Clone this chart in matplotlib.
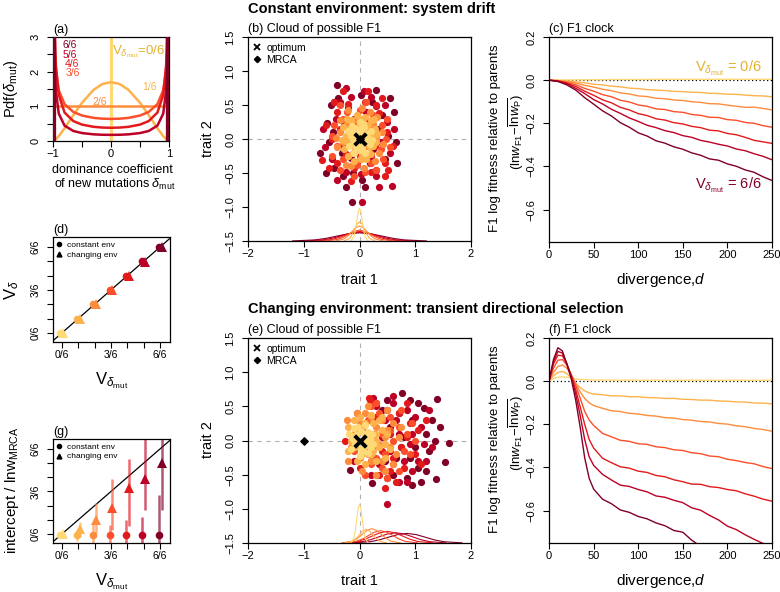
import matplotlib
matplotlib.use('Agg')
import matplotlib.pyplot as plt
import numpy as np
from matplotlib.lines import Line2D

plt.rcParams['font.family'] = ['Liberation Sans', 'DejaVu Sans']
plt.rcParams['mathtext.fontset'] = 'custom'
plt.rcParams['mathtext.rm'] = 'Liberation Sans'
plt.rcParams['mathtext.it'] = 'Liberation Sans:italic'
plt.rcParams['mathtext.bf'] = 'Liberation Sans:bold'
plt.rcParams['axes.linewidth'] = 0.9

# ---------------- data ----------------
cols = ['#FED976', '#FEB24C', '#FD8D3C', '#FC4E2A', '#E31A1C', '#BD0026', '#800026']
gold = '#E3B22E'

# (a) distributions of dominance coefficient
a_x = [-0.995, -0.98, -0.97, -0.95, -0.9, -0.8, -0.65, -0.5, -0.3, -0.15, 0,
       0.15, 0.3, 0.5, 0.65, 0.8, 0.9, 0.95, 0.97, 0.98, 0.995]
pdf0_at = [0.0]
pdf1 = [0.002, 0.013, 0.024, 0.052, 0.141, 0.367, 0.746, 1.104, 1.476, 1.643, 1.7,
        1.643, 1.476, 1.104, 0.746, 0.367, 0.141, 0.052, 0.024, 0.013, 0.002]
pdf2_x = [-1.0, 1.0]
pdf2_y = [1.0, 1.0]
pdf3 = [6.37, 3.20, 2.619, 2.039, 1.460, 1.061, 0.838, 0.735, 0.667, 0.644, 0.637,
        0.644, 0.667, 0.735, 0.838, 1.061, 1.460, 2.039, 2.619, 3.20, 6.37]
pdf4 = [12.1, 4.29, 3.178, 2.18, 1.324, 0.820, 0.575, 0.473, 0.409, 0.388, 0.381,
        0.388, 0.409, 0.473, 0.575, 0.820, 1.324, 2.18, 3.178, 4.29, 12.1]
pdf5 = [11.2, 3.23, 2.252, 1.435, 0.787, 0.443, 0.289, 0.229, 0.192, 0.180, 0.177,
        0.180, 0.192, 0.229, 0.289, 0.443, 0.787, 1.435, 2.252, 3.23, 11.2]
pdf6_at = [-1.0, 1.0]

# (d) and (g)
v_mut = [0/6, 1/6, 2/6, 3/6, 4/6, 5/6, 6/6]
vd_const = [0.0, 0.167, 0.333, 0.500, 0.667, 0.833, 1.000]
vd_chang = [0.0, 0.165, 0.331, 0.497, 0.663, 0.829, 0.995]
g_const = [-0.010, -0.015, -0.015, -0.012, -0.015, -0.015, -0.015]
g_const_lo = [-0.010, -0.086, -0.20, -0.20, -0.25, -0.30, -0.40]
g_const_hi = [-0.010, 0.050, 0.120, 0.108, 0.166, 0.205, 0.457]
g_chang = [0.0, 0.058, 0.167, 0.300, 0.535, 0.643, 0.833]
g_chang_lo = [0.0, -0.030, 0.010, 0.050, 0.090, 0.280, 0.283]
g_chang_hi = [0.0, 0.147, 0.360, 0.640, 0.880, 1.300, 1.300]

# (b) cloud of F1, constant environment (per V class)
cloud_b = [
    [(-0.10, 0.10), (-0.12, -0.03), (-0.06, -0.12), (0.05, -0.12), (0.12, -0.04), (0.11, 0.08),
     (0.03, 0.14), (-0.03, 0.03), (0.04, -0.02), (-0.15, 0.04), (0.15, 0.02), (0.00, -0.16),
     (-0.08, 0.16), (0.08, 0.17), (0.00, 0.06), (-0.04, -0.06), (0.18, -0.08), (-0.18, -0.10),
     (0.06, 0.22), (-0.14, 0.19), (0.20, 0.12), (-0.20, 0.12), (0.10, -0.20), (-0.10, -0.20),
     (0.00, 0.25), (0.22, -0.02)],
    [(-0.18, 0.15), (-0.22, -0.05), (-0.12, -0.20), (0.05, -0.22), (0.18, -0.12), (0.22, 0.05),
     (0.15, 0.20), (0.00, 0.22), (-0.08, 0.05), (0.08, -0.05), (-0.05, -0.10), (0.10, 0.10),
     (-0.25, 0.05), (0.25, -0.10), (0.00, 0.30), (0.02, -0.30), (-0.15, 0.28), (0.20, 0.28),
     (-0.20, -0.25), (0.28, 0.15), (-0.30, 0.18), (-0.28, -0.15), (-0.10, -0.32), (0.12, -0.30),
     (0.30, -0.05), (0.32, 0.08), (0.10, 0.32), (-0.05, 0.36), (-0.32, -0.02), (0.18, -0.22),
     (-0.22, 0.30), (0.26, 0.30), (-0.12, 0.12), (0.12, 0.00), (0.00, -0.12)],
    [(-0.25, 0.20), (-0.30, -0.05), (-0.20, -0.25), (0.00, -0.30), (0.20, -0.22), (0.30, 0.00),
     (0.25, 0.22), (0.05, 0.30), (-0.10, 0.28), (0.10, -0.10), (-0.10, -0.10), (0.15, 0.12),
     (-0.35, 0.10), (0.35, -0.20), (0.05, 0.45), (-0.15, -0.40), (0.32, 0.32), (-0.40, -0.12),
     (-0.35, 0.28), (-0.25, -0.38), (0.08, -0.42), (0.28, -0.32), (0.40, 0.10), (0.18, 0.40),
     (-0.20, 0.42), (0.42, -0.08), (-0.42, 0.02), (0.10, 0.22), (-0.22, 0.00)],
    [(-0.30, 0.30), (-0.40, -0.10), (-0.30, -0.30), (-0.05, -0.38), (0.20, -0.35), (0.38, -0.15),
     (0.40, 0.20), (0.25, 0.35), (0.00, 0.42), (-0.22, 0.40), (-0.45, 0.20), (0.15, -0.10),
     (-0.15, 0.05), (0.05, 0.15), (0.30, -0.45), (-0.50, -0.25), (0.48, 0.00), (-0.10, -0.55),
     (-0.50, 0.05), (-0.35, -0.45), (0.10, -0.48), (0.42, -0.30), (0.50, 0.30), (0.12, 0.55),
     (-0.35, 0.50), (0.30, 0.05), (-0.10, 0.20), (0.55, -0.12)],
    [(-0.40, 0.40), (-0.50, 0.00), (-0.40, -0.35), (-0.10, -0.42), (0.20, -0.48), (0.45, -0.35),
     (0.52, -0.46), (0.50, 0.10), (0.35, 0.38), (0.10, 0.55), (-0.20, 0.52), (-0.35, 0.15),
     (0.28, -0.10), (-0.25, -0.22), (0.05, 0.25), (-0.68, -0.31), (0.15, 0.70), (-0.30, 0.70),
     (0.40, 0.60), (-0.55, -0.42), (0.00, -0.25), (0.20, 0.20), (-0.60, 0.20), (0.60, -0.10),
     (-0.15, -0.62), (0.30, 0.50), (-0.45, 0.55), (0.45, -0.55)],
    [(-0.35, 0.55), (-0.62, -0.12), (-0.50, -0.30), (-0.25, -0.48), (0.02, -0.52), (0.30, -0.55),
     (0.55, -0.20), (0.50, 0.25), (0.30, 0.48), (0.08, 0.70), (-0.15, 0.62), (-0.42, 0.30),
     (-0.20, 0.10), (0.20, -0.25), (0.38, -0.05), (-0.30, -0.10), (0.12, 0.40), (-0.05, -0.35),
     (0.58, -0.69), (0.04, -0.92), (-0.45, 0.55), (0.25, 0.15), (-0.10, -0.05), (0.45, 0.50),
     (-0.65, 0.15), (0.62, 0.15), (-0.25, 0.75), (0.35, -0.70), (-0.40, -0.60), (0.20, 0.62)],
    [(-0.41, 0.79), (-0.38, 0.61), (-0.51, 0.50), (-0.59, 0.24), (-0.55, -0.05), (-0.45, -0.42),
     (-0.30, -0.55), (-0.12, -0.50), (0.05, -0.60), (0.10, -0.70), (0.30, -0.45), (0.45, -0.30),
     (0.52, 0.05), (0.40, 0.35), (0.22, 0.55), (0.02, 0.65), (-0.20, 0.45), (-0.28, 0.20),
     (-0.32, -0.20), (0.25, -0.15), (0.15, 0.25), (-0.10, 0.30), (0.35, 0.15), (-0.15, -0.28),
     (0.67, -0.36), (0.61, 0.40), (-0.14, -0.92), (-0.48, 0.10), (0.18, -0.35), (-0.05, -0.15),
     (-0.70, -0.20), (0.65, -0.05), (-0.25, -0.70), (0.30, 0.72), (-0.60, -0.50), (0.55, 0.60)],
]

# (e) cloud of F1, changing environment
cloud_e = [
    [(0.10, 0.08), (0.12, -0.06), (0.02, -0.12), (-0.08, -0.05), (-0.06, 0.08), (0.03, 0.14),
     (0.18, 0.02), (0.00, 0.00), (0.08, 0.00), (-0.12, 0.02), (0.15, 0.12), (0.06, -0.16),
     (-0.03, 0.20), (0.20, -0.10), (0.22, 0.10), (-0.15, -0.12), (0.10, 0.22), (-0.10, 0.18),
     (0.25, -0.05), (0.00, -0.22), (0.15, -0.18), (-0.18, 0.10)],
    [(0.30, 0.10), (0.35, -0.10), (0.20, -0.20), (0.05, -0.20), (-0.08, -0.10), (0.25, 0.25),
     (0.10, 0.25), (-0.05, 0.15), (0.15, 0.05), (0.20, -0.05), (0.05, 0.00), (0.40, 0.15),
     (0.10, -0.35), (0.30, -0.30), (-0.10, 0.30), (0.00, 0.35), (0.45, -0.05), (-0.15, 0.00),
     (0.50, 0.10), (0.45, -0.25), (0.35, 0.30), (0.20, 0.38), (-0.05, -0.30), (-0.20, -0.15),
     (-0.20, 0.20), (0.55, -0.12), (0.30, 0.00), (0.10, 0.10), (0.25, -0.15), (0.40, 0.35)],
    [(0.50, 0.15), (0.55, -0.10), (0.40, -0.30), (0.20, -0.30), (0.00, -0.25), (0.40, 0.30),
     (0.20, 0.35), (0.00, 0.25), (0.25, 0.05), (0.35, -0.05), (0.10, -0.10), (-0.10, 0.10),
     (-0.15, -0.10), (0.60, 0.25), (0.15, 0.50), (0.45, -0.45), (-0.05, 0.40), (0.30, 0.20),
     (0.05, -0.45), (0.65, -0.20), (0.70, 0.05), (0.60, -0.35), (0.50, 0.45), (0.30, -0.50),
     (-0.20, -0.30), (-0.22, 0.30), (0.75, 0.20), (0.45, 0.05), (0.15, -0.20), (0.10, 0.40)],
    [(0.70, 0.20), (0.80, -0.15), (0.60, -0.35), (0.40, -0.40), (0.20, -0.35), (0.55, 0.35),
     (0.35, 0.40), (0.15, 0.30), (0.40, 0.10), (0.60, 0.00), (0.25, -0.10), (0.45, -0.20),
     (0.05, 0.15), (-0.10, -0.15), (0.85, 0.10), (0.10, -0.50), (0.30, 0.55), (0.70, -0.45),
     (0.90, -0.20), (0.95, 0.25), (0.75, 0.45), (0.50, -0.55), (0.20, 0.50), (-0.05, 0.40),
     (0.55, 0.15), (0.30, -0.25), (1.00, 0.00)],
    [(0.90, 0.25), (1.00, -0.20), (0.80, -0.40), (0.55, -0.45), (0.35, -0.50), (0.70, 0.40),
     (0.50, 0.45), (0.30, 0.35), (0.55, 0.10), (0.75, -0.10), (0.40, -0.15), (0.60, -0.25),
     (0.85, 0.05), (0.20, -0.30), (0.19, 0.59), (0.17, 0.62), (-0.26, -0.01), (0.25, 0.10),
     (1.05, 0.15), (0.45, -0.70), (1.20, 0.30), (1.10, -0.35), (0.65, -0.60), (0.30, 0.55),
     (0.85, 0.55), (0.00, -0.40)],
    [(1.10, 0.20), (1.20, -0.30), (0.95, -0.45), (0.70, -0.60), (0.50, -0.55), (0.85, 0.45),
     (0.60, 0.55), (0.45, 0.30), (0.70, 0.10), (0.90, -0.05), (0.55, -0.15), (0.80, -0.30),
     (1.00, 0.35), (0.35, -0.35), (0.30, 0.50), (1.15, -0.05), (0.40, 0.05), (0.65, 0.30),
     (0.25, 0.62), (-0.10, -0.30), (0.49, -0.93), (0.95, 0.10), (1.30, -0.10), (1.25, 0.45),
     (0.85, -0.60), (0.60, 0.65), (0.20, -0.50), (1.05, -0.30)],
    [(1.39, 0.61), (1.60, -0.03), (1.54, -0.32), (1.38, -0.57), (0.76, 0.69), (1.16, 0.48),
     (1.20, 0.10), (1.25, -0.15), (1.05, -0.40), (0.85, -0.55), (0.60, -0.50), (0.95, 0.30),
     (0.70, 0.40), (0.55, 0.20), (0.80, 0.05), (1.00, -0.10), (0.65, -0.25), (0.90, -0.25),
     (1.30, 0.30), (0.45, -0.30), (0.40, 0.45), (-0.17, -0.43), (0.22, -0.62), (1.10, -0.60),
     (0.75, -0.10), (1.05, 0.55), (1.45, 0.20), (1.20, -0.45), (0.95, -0.65), (0.90, 0.60),
     (0.50, 0.60), (1.35, 0.00)],
]

# marginal densities of trait 1 (drawn on the bottom of the clouds)
dens_b_x = [
    [-0.15, -0.1, -0.075, -0.05, -0.025, 0, 0.025, 0.05, 0.075, 0.1, 0.15],
    [-0.27, -0.18, -0.135, -0.09, -0.045, 0, 0.045, 0.09, 0.135, 0.18, 0.27],
    [-0.42, -0.28, -0.21, -0.14, -0.07, 0, 0.07, 0.14, 0.21, 0.28, 0.42],
    [-0.6, -0.4, -0.3, -0.2, -0.1, 0, 0.1, 0.2, 0.3, 0.4, 0.6],
    [-0.78, -0.52, -0.39, -0.26, -0.13, 0, 0.13, 0.26, 0.39, 0.52, 0.78],
    [-0.96, -0.64, -0.48, -0.32, -0.16, 0, 0.16, 0.32, 0.48, 0.64, 0.96],
    [-1.2, -0.8, -0.6, -0.4, -0.2, 0, 0.2, 0.4, 0.6, 0.8, 1.2],
]
dens_b_y = [
    [-1.495, -1.435, -1.344, -1.209, -1.077, -1.02, -1.077, -1.209, -1.344, -1.435, -1.495],
    [-1.497, -1.462, -1.409, -1.330, -1.253, -1.22, -1.253, -1.330, -1.409, -1.462, -1.497],
    [-1.498, -1.470, -1.428, -1.366, -1.306, -1.28, -1.306, -1.366, -1.428, -1.470, -1.498],
    [-1.498, -1.478, -1.448, -1.403, -1.359, -1.34, -1.359, -1.403, -1.448, -1.478, -1.498],
    [-1.498, -1.481, -1.455, -1.415, -1.377, -1.36, -1.377, -1.415, -1.455, -1.481, -1.498],
    [-1.499, -1.482, -1.458, -1.421, -1.385, -1.37, -1.385, -1.421, -1.458, -1.482, -1.499],
    [-1.499, -1.484, -1.461, -1.427, -1.394, -1.38, -1.394, -1.427, -1.461, -1.484, -1.499],
]
dens_e_x = [
    [-0.15, -0.1, -0.075, -0.05, -0.025, 0, 0.025, 0.05, 0.075, 0.1, 0.15],
    [-0.24, -0.12, -0.06, 0.0, 0.06, 0.12, 0.18, 0.24, 0.30, 0.36, 0.48],
    [-0.29, -0.12, -0.035, 0.05, 0.135, 0.22, 0.305, 0.39, 0.475, 0.56, 0.73],
    [-0.28, -0.06, 0.05, 0.16, 0.27, 0.38, 0.49, 0.60, 0.71, 0.82, 1.04],
    [-0.31, -0.04, 0.095, 0.23, 0.365, 0.5, 0.635, 0.77, 0.905, 1.04, 1.31],
    [-0.25, 0.05, 0.2, 0.35, 0.5, 0.65, 0.8, 0.95, 1.1, 1.25, 1.55],
    [-0.14, 0.19, 0.355, 0.52, 0.685, 0.85, 1.015, 1.18, 1.345, 1.51, 1.84],
]
dens_e_y = [
    [-1.494, -1.423, -1.315, -1.154, -0.997, -0.93, -0.997, -1.154, -1.315, -1.423, -1.494],
    [-1.498, -1.473, -1.435, -1.379, -1.324, -1.30, -1.324, -1.379, -1.435, -1.473, -1.498],
    [-1.498, -1.472, -1.432, -1.373, -1.315, -1.29, -1.315, -1.373, -1.432, -1.472, -1.498],
    [-1.498, -1.476, -1.442, -1.391, -1.341, -1.32, -1.341, -1.391, -1.442, -1.476, -1.498],
    [-1.498, -1.477, -1.445, -1.397, -1.350, -1.33, -1.350, -1.397, -1.445, -1.477, -1.498],
    [-1.498, -1.480, -1.451, -1.409, -1.368, -1.35, -1.368, -1.409, -1.451, -1.480, -1.498],
    [-1.498, -1.481, -1.455, -1.415, -1.377, -1.36, -1.377, -1.415, -1.455, -1.481, -1.498],
]
optimum = (0.0, 0.0)
mrca_b = (0.0, 0.0)
mrca_e = (-1.0, 0.0)

# (c) F1 clock, constant environment
d_c = list(range(0, 251, 10))
clock_c = [
    [0, 0.000, 0.001, 0.001, 0.002, 0.002, 0.002, 0.003, 0.003, 0.003, 0.003, 0.003, 0.004,
     0.004, 0.004, 0.004, 0.004, 0.004, 0.004, 0.004, 0.004, 0.004, 0.004, 0.004, 0.004, 0.004],
    [0, -0.001, -0.004, -0.008, -0.012, -0.019, -0.022, -0.028, -0.031, -0.037, -0.039, -0.044,
     -0.046, -0.048, -0.052, -0.053, -0.056, -0.057, -0.061, -0.062, -0.065, -0.066, -0.069,
     -0.072, -0.073, -0.077],
    [0, -0.002, -0.007, -0.013, -0.024, -0.032, -0.042, -0.049, -0.059, -0.064, -0.073, -0.076,
     -0.084, -0.086, -0.092, -0.094, -0.100, -0.103, -0.109, -0.110, -0.116, -0.121, -0.126,
     -0.125, -0.131, -0.138],
    [0, -0.003, -0.011, -0.021, -0.038, -0.051, -0.067, -0.077, -0.093, -0.101, -0.115, -0.121,
     -0.133, -0.136, -0.146, -0.149, -0.159, -0.163, -0.172, -0.173, -0.183, -0.186, -0.196,
     -0.200, -0.211, -0.218],
    [0, -0.004, -0.014, -0.029, -0.051, -0.070, -0.091, -0.105, -0.126, -0.138, -0.155, -0.164,
     -0.179, -0.185, -0.197, -0.203, -0.214, -0.220, -0.232, -0.235, -0.247, -0.253, -0.265,
     -0.279, -0.286, -0.293],
    [0, -0.005, -0.016, -0.038, -0.062, -0.090, -0.110, -0.135, -0.154, -0.175, -0.191, -0.209,
     -0.220, -0.234, -0.243, -0.257, -0.265, -0.279, -0.287, -0.297, -0.305, -0.319, -0.327,
     -0.341, -0.353, -0.369],
    [0, -0.006, -0.022, -0.046, -0.081, -0.111, -0.142, -0.166, -0.197, -0.218, -0.244, -0.259,
     -0.281, -0.292, -0.309, -0.320, -0.337, -0.348, -0.365, -0.371, -0.388, -0.399, -0.416,
     -0.427, -0.448, -0.465],
]

# (f) F1 clock, changing environment
d_f = [0, 5, 10, 15, 20, 25, 30, 35, 40, 45, 50, 60, 70, 80, 90, 100, 110, 120, 130, 140, 150,
       160, 170, 180, 190, 200, 210, 220, 230, 240, 250]
clock_f = [
    [0, 0.012, 0.018, 0.020, 0.018, 0.014, 0.010, 0.008, 0.007, 0.006, 0.005, 0.005, 0.005,
     0.004, 0.005, 0.004, 0.004, 0.005, 0.004, 0.004, 0.004, 0.005, 0.004, 0.004, 0.004, 0.004,
     0.005, 0.004, 0.004, 0.004, 0.004],
    [0, 0.025, 0.040, 0.045, 0.035, 0.015, -0.010, -0.030, -0.045, -0.054, -0.060, -0.063,
     -0.068, -0.068, -0.072, -0.072, -0.076, -0.077, -0.080, -0.080, -0.084, -0.085, -0.088,
     -0.088, -0.092, -0.093, -0.096, -0.097, -0.101, -0.102, -0.105],
    [0, 0.040, 0.068, 0.075, 0.060, 0.030, -0.010, -0.050, -0.080, -0.100, -0.113, -0.126,
     -0.137, -0.141, -0.149, -0.152, -0.159, -0.162, -0.169, -0.171, -0.178, -0.181, -0.187,
     -0.189, -0.196, -0.199, -0.207, -0.211, -0.219, -0.224, -0.232],
    [0, 0.060, 0.097, 0.100, 0.075, 0.030, -0.020, -0.080, -0.140, -0.180, -0.205, -0.242,
     -0.258, -0.274, -0.279, -0.290, -0.293, -0.304, -0.308, -0.318, -0.321, -0.332, -0.336,
     -0.347, -0.350, -0.362, -0.368, -0.377, -0.383, -0.396, -0.405],
    [0, 0.080, 0.120, 0.118, 0.080, 0.025, -0.040, -0.120, -0.200, -0.270, -0.310, -0.357,
     -0.378, -0.397, -0.403, -0.417, -0.423, -0.437, -0.443, -0.457, -0.466, -0.477, -0.478,
     -0.489, -0.493, -0.502, -0.508, -0.522, -0.533, -0.547, -0.556],
    [0, 0.090, 0.138, 0.130, 0.080, 0.020, -0.060, -0.160, -0.270, -0.350, -0.390, -0.432,
     -0.458, -0.482, -0.488, -0.502, -0.513, -0.532, -0.538, -0.552, -0.563, -0.587, -0.598,
     -0.622, -0.643, -0.672, -0.688, -0.712, -0.733, -0.752, -0.765],
    [0, 0.100, 0.155, 0.140, 0.080, 0.010, -0.090, -0.215, -0.355, -0.450, -0.500, -0.547,
     -0.568, -0.597, -0.608, -0.627, -0.638, -0.657, -0.670, -0.692, -0.700, -0.737, -0.765,
     -0.790, -0.810, -0.830, -0.850, -0.870, -0.890, -0.910, -0.930],
]

frac_ticks = [0, 1/6, 2/6, 3/6, 4/6, 5/6, 6/6]
frac_labels = ['0/6', '', '', '3/6', '', '', '6/6']

# ---------------- figure ----------------
W, H = 780, 592
fig = plt.figure(figsize=(W / 100, H / 100), dpi=100)


def add_ax(l, t, r, b):
    return fig.add_axes([l / W, 1 - b / H, (r - l) / W, (b - t) / H])


def ftext(px, py, s, **kw):
    kw.setdefault('ha', 'center')
    kw.setdefault('va', 'center')
    fig.text(px / W, 1 - py / H, s, **kw)


def style(ax, fs=8, ypad=5):
    ax.tick_params(direction='out', length=4, width=0.8, labelsize=fs, pad=2)
    ax.tick_params(axis='y', labelrotation=90, pad=ypad)
    plt.setp(ax.get_yticklabels(), va='center')


def plabel(ax, s):
    ax.text(0, 1.01, s, transform=ax.transAxes, ha='left', va='bottom', fontsize=9)


axA = add_ax(53, 37, 169, 141)
axD = add_ax(53, 237, 170, 342)
axG = add_ax(53, 439, 170, 543)
axB = add_ax(248, 37, 471, 241)
axE = add_ax(248, 338, 471, 543)
axC = add_ax(549, 37, 772, 242)
axF = add_ax(549, 338, 772, 543)

# ---- (a)
axA.vlines(pdf0_at, 0, 3, color=cols[0], lw=2.2, zorder=2)
axA.plot(a_x, pdf1, color=cols[1], lw=1.8)
axA.plot(pdf2_x, pdf2_y, color=cols[2], lw=1.8)
axA.plot(a_x, pdf3, color=cols[3], lw=1.8)
axA.plot(a_x, pdf4, color=cols[4], lw=1.8)
axA.plot(a_x, pdf5, color=cols[5], lw=1.8)
axA.vlines(pdf6_at, 0, 3, color=cols[6], lw=4.5, zorder=3)
axA.set_xlim(-1, 1)
axA.set_ylim(0, 3)
axA.set_xticks([-1, -0.5, 0, 0.5, 1])
axA.set_xticklabels(['\u22121', '', '0', '', '1'])
axA.set_yticks([0, 0.5, 1, 1.5, 2, 2.5, 3])
axA.set_yticklabels(['0', '', '1', '', '2', '', '3'])
style(axA)
plabel(axA, '(a)')
for lab, col, (x, y) in zip(['6/6', '5/6', '4/6', '3/6'], cols[6:2:-1],
                            [(-0.72, 2.77), (-0.71, 2.48), (-0.68, 2.22), (-0.65, 1.96)]):
    axA.text(x, y, lab, color=col, fontsize=7.5, ha='center', va='center')
axA.text(-0.19, 1.13, '2/6', color=cols[2], fontsize=7.5, ha='center', va='center')
axA.text(0.67, 1.55, '1/6', color=cols[1], fontsize=7.5, ha='center', va='center')
axA.text(0.02, 2.57, r'V$_{\delta_{\mathrm{mut}}}$=0/6', color=gold, fontsize=9.5,
         ha='left', va='center')

# ---- (d)
xo = 0.014
axD.axline((0, 0), slope=1, color='k', lw=0.9, zorder=1)
for k in range(7):
    axD.plot(v_mut[k] - xo, vd_const[k], 'o', color=cols[k], ms=5.5, mew=0, zorder=3)
    axD.plot(v_mut[k] + xo, vd_chang[k], '^', color=cols[k], ms=6.5, mew=0, zorder=3)
axD.set_xlim(-0.09, 1.1)
axD.set_ylim(-0.105, 1.115)
for ax in (axD, axG):
    ax.set_xticks(frac_ticks)
    ax.set_xticklabels(frac_labels)
    ax.set_yticks(frac_ticks)
    ax.set_yticklabels(frac_labels)
style(axD, fs=7.5)
plabel(axD, '(d)')

leg_h = [Line2D([], [], marker='o', ls='none', color='k', ms=3, label='constant env'),
         Line2D([], [], marker='^', ls='none', color='k', ms=3.5, label='changing env')]
for ax in (axD, axG):
    ax.legend(handles=leg_h, loc='upper left', frameon=False, fontsize=6, handlelength=0.6,
              handletextpad=0.6, labelspacing=0.25, borderaxespad=0.25, borderpad=0.2)

# ---- (g)
axG.axline((0, 0), slope=1, color='k', lw=0.9, zorder=1)
for k in range(7):
    axG.vlines(v_mut[k] - xo, g_const_lo[k], g_const_hi[k], color=cols[k], lw=1.8, alpha=0.65, zorder=2)
    axG.vlines(v_mut[k] + xo, g_chang_lo[k], g_chang_hi[k], color=cols[k], lw=1.8, alpha=0.65, zorder=2)
    axG.plot(v_mut[k] - xo, g_const[k], 'o', color=cols[k], ms=5.5, mew=0, zorder=3)
    axG.plot(v_mut[k] + xo, g_chang[k], '^', color=cols[k], ms=6.5, mew=0, zorder=3)
axG.set_xlim(-0.09, 1.1)
axG.set_ylim(-0.105, 1.115)
style(axG, fs=7.5)
plabel(axG, '(g)')

# ---- (b), (e)
for ax, cloud, dx, dy, mrca in ((axB, cloud_b, dens_b_x, dens_b_y, mrca_b),
                                (axE, cloud_e, dens_e_x, dens_e_y, mrca_e)):
    ax.axhline(0, color='#b0b0b0', lw=0.8, ls=(0, (4, 4)), zorder=1)
    ax.axvline(0, color='#b0b0b0', lw=0.8, ls=(0, (4, 4)), zorder=1)
    for k in range(6, -1, -1):
        xs = [p[0] for p in cloud[k]]
        ys = [p[1] for p in cloud[k]]
        ax.scatter(xs, ys, s=27, color=cols[k], lw=0, zorder=3)
    for k in range(6, -1, -1):
        ax.plot(dx[k], dy[k], color=cols[k], lw=0.8, zorder=2)
    ax.scatter([mrca[0]], [mrca[1]], marker='D', s=14, color='k', zorder=5)
    ax.scatter([optimum[0]], [optimum[1]], marker='x', s=70, lw=2.8, color='k', zorder=6)
    ax.set_xlim(-2, 2)
    ax.set_ylim(-1.5, 1.5)
    ax.set_xticks([-2, -1, 0, 1, 2])
    ax.set_yticks([-1.5, -1.0, -0.5, 0.0, 0.5, 1.0, 1.5])
    ax.set_yticklabels(['\u22121.5', '\u22121.0', '\u22120.5', '0.0', '0.5', '1.0', '1.5'])
    style(ax)
    h = [Line2D([], [], marker='x', ls='none', color='k', ms=5, mew=1.3, label='optimum'),
         Line2D([], [], marker='D', ls='none', color='k', ms=3.2, label='MRCA')]
    ax.legend(handles=h, loc='upper left', frameon=False, fontsize=7.5, handlelength=0.6,
              handletextpad=0.6, labelspacing=0.2, borderaxespad=0.3, borderpad=0.25)
plabel(axB, '(b) Cloud of possible F1')
plabel(axE, '(e) Cloud of possible F1')

# ---- (c), (f)
for ax, dd, lines in ((axC, d_c, clock_c), (axF, d_f, clock_f)):
    ax.axhline(0, color='k', lw=0.9, ls=(0, (1, 2)), zorder=1)
    for k in range(7):
        ax.plot(dd, lines[k], color=cols[k], lw=1.0, zorder=2)
    ax.set_xlim(0, 250)
    ax.set_ylim(-0.75, 0.2)
    ax.set_xticks([0, 50, 100, 150, 200, 250])
    ax.set_yticks([-0.6, -0.4, -0.2, 0.0, 0.2])
    ax.set_yticklabels(['\u22120.6', '\u22120.4', '\u22120.2', '0.0', '0.2'])
    style(ax)
plabel(axC, '(c) F1 clock')
plabel(axF, '(f) F1 clock')
axC.text(164, 0.052, r'V$_{\delta_{\mathrm{mut}}}$ = 0/6', color=gold, fontsize=10.5,
         ha='left', va='center')
axC.text(164, -0.49, r'V$_{\delta_{\mathrm{mut}}}$ = 6/6', color=cols[6], fontsize=10.5,
         ha='left', va='center')

# ---- titles and axis labels
fig.text(248 / W, 1 - 9 / H, 'Constant environment: system drift', fontsize=10.5,
         fontweight='bold', ha='left', va='center')
fig.text(248 / W, 1 - 309 / H, 'Changing environment: transient directional selection',
         fontsize=10.5, fontweight='bold', ha='left', va='center')

ftext(11, 89, r'Pdf($\delta_{\mathrm{mut}}$)', rotation=90, fontsize=10.5)
ftext(112, 170, 'dominance coefficient', fontsize=9)
ftext(115, 184, r'of new mutations $\delta_{\mathrm{mut}}$', fontsize=9)
ftext(12, 290, r'V$_{\delta}$', rotation=90, fontsize=12)
ftext(112, 381, r'V$_{\delta_{\mathrm{mut}}}$', fontsize=12)
ftext(12, 490, r'intercept / lnw$_{\mathrm{MRCA}}$', rotation=90, fontsize=11)
ftext(112, 582, r'V$_{\delta_{\mathrm{mut}}}$', fontsize=12)
for yoff in (0, 301):
    ftext(208, 139 + yoff, 'trait 2', rotation=90, fontsize=10.5)
    ftext(359, 280 + yoff, 'trait 1', fontsize=10.5)
    ftext(495, 138 + yoff, 'F1 log fitness relative to parents', rotation=90, fontsize=9.5)
    ftext(516, 132 + yoff, r'$(\mathrm{ln}w_{\mathrm{F1}}\!-\!\overline{\mathrm{ln}w_{\mathrm{P}}})$',
          rotation=90, fontsize=9.5)
    ftext(661, 280 + yoff, r'divergence,$d$', fontsize=11)

fig.savefig('out.png', dpi=100)
